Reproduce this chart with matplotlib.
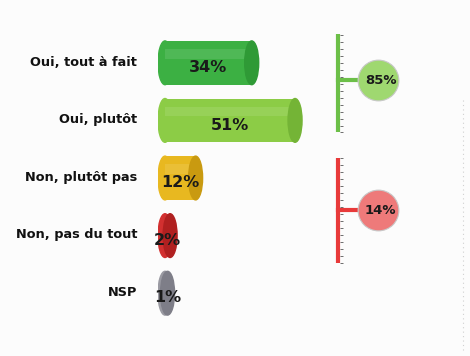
import matplotlib.pyplot as plt
from matplotlib.patches import Ellipse

# Data
categories = ['Oui, tout à fait', 'Oui, plutôt', 'Non, plutôt pas', 'Non, pas du tout', 'NSP']
values = [34, 51, 12, 2, 1]
colors = ['#3cb043', '#8ccc46', '#e8b820', '#d23030', '#9a9aa2']
cap_colors = ['#2f9a36', '#74b436', '#c99a10', '#b02020', '#7e7e88']
groups = [[0, 1], [2, 3]]
group_colors = ['#6cbf48', '#e83a3a']
group_fill = ['#9fd870', '#ee7a7a']

W, H = 470, 356
fig = plt.figure(figsize=(W / 100, H / 100), dpi=100)
fig.patch.set_facecolor('#fcfcfc')

# axes: x in %, 2.55 px per %, left edge at px 158
px_per_unit = 2.55
ax_left, ax_top, ax_bottom = 158, 34, 322
ax = fig.add_axes([ax_left / W, 1 - ax_bottom / H, (W - ax_left) / W, (ax_bottom - ax_top) / H])
ax.set_xlim(0, (W - ax_left) / px_per_unit)
ax.set_ylim(len(categories) - 0.5, -0.5)
ax.axis('off')

cap_w = 14 / px_per_unit
bar_h = 0.76
ys = list(range(len(categories)))

# cylinder body
ax.barh(ys, values, left=cap_w / 2, height=bar_h, color=colors, zorder=2)
for y, v, c, cc in zip(ys, values, colors, cap_colors):
    ax.add_patch(Ellipse((cap_w / 2, y), cap_w, bar_h, color=c, zorder=2))
    # soft top highlight
    ax.barh(y - bar_h * 0.2, v, left=cap_w / 2, height=bar_h * 0.22, color='white', alpha=0.1,
            zorder=3, linewidth=0)
    ax.add_patch(Ellipse((cap_w / 2 + v, y), cap_w, bar_h, color=cc, zorder=4))

# value labels
for y, v in zip(ys, values):
    xc = cap_w / 2 + v / 2 if v > 5 else cap_w / 2 + 1
    ax.text(xc, y + 0.08, f'{v}%', ha='center', va='center', fontsize=11.5,
            fontweight='bold', color='#1a1a1a', zorder=5)

# category labels
for y, cat in zip(ys, categories):
    fig.text(137 / W, 1 - (62 + y * 57.6) / H, cat, ha='right', va='center',
             fontsize=9.3, fontweight='bold', color='#111111')

# brackets with totals
bracket_x = (338 - ax_left) / px_per_unit
circle_x = (378 - ax_left) / px_per_unit
group_centers = [0.30, 2.56]
half_len = 0.91
for g, yc, lc, fc in zip(groups, group_centers, group_colors, group_fill):
    total = sum(values[i] for i in g)
    ax.plot([bracket_x, bracket_x], [yc - half_len, yc + half_len], color=lc, lw=3, zorder=2,
            solid_capstyle='butt')
    n = 15
    tick_y = [yc - half_len + k * (2 * half_len) / n for k in range(n + 1)]
    ax.plot([bracket_x + 0.6] * len(tick_y), tick_y, linestyle='none', marker=1,
            markersize=2.5, color='#555555', markeredgewidth=0.6, zorder=3)
    ax.plot([bracket_x, circle_x], [yc, yc], color=lc, lw=3, zorder=2)
    ax.scatter([circle_x], [yc], s=860, color=fc, edgecolor='#c8c8c8', linewidth=0.8, zorder=4)
    ax.text(circle_x + 1, yc, f'{total}%', ha='center', va='center', fontsize=9.5,
            fontweight='bold', color='#1a1a1a', zorder=5)

# faint dotted border on the right
fig.add_artist(plt.Line2D([463 / W, 463 / W], [1 - 100 / H, 1 - 352 / H], color='#d0d0d0',
                          lw=0.8, linestyle=(0, (1, 3))))

fig.savefig('out.png', dpi=100, facecolor=fig.get_facecolor())
